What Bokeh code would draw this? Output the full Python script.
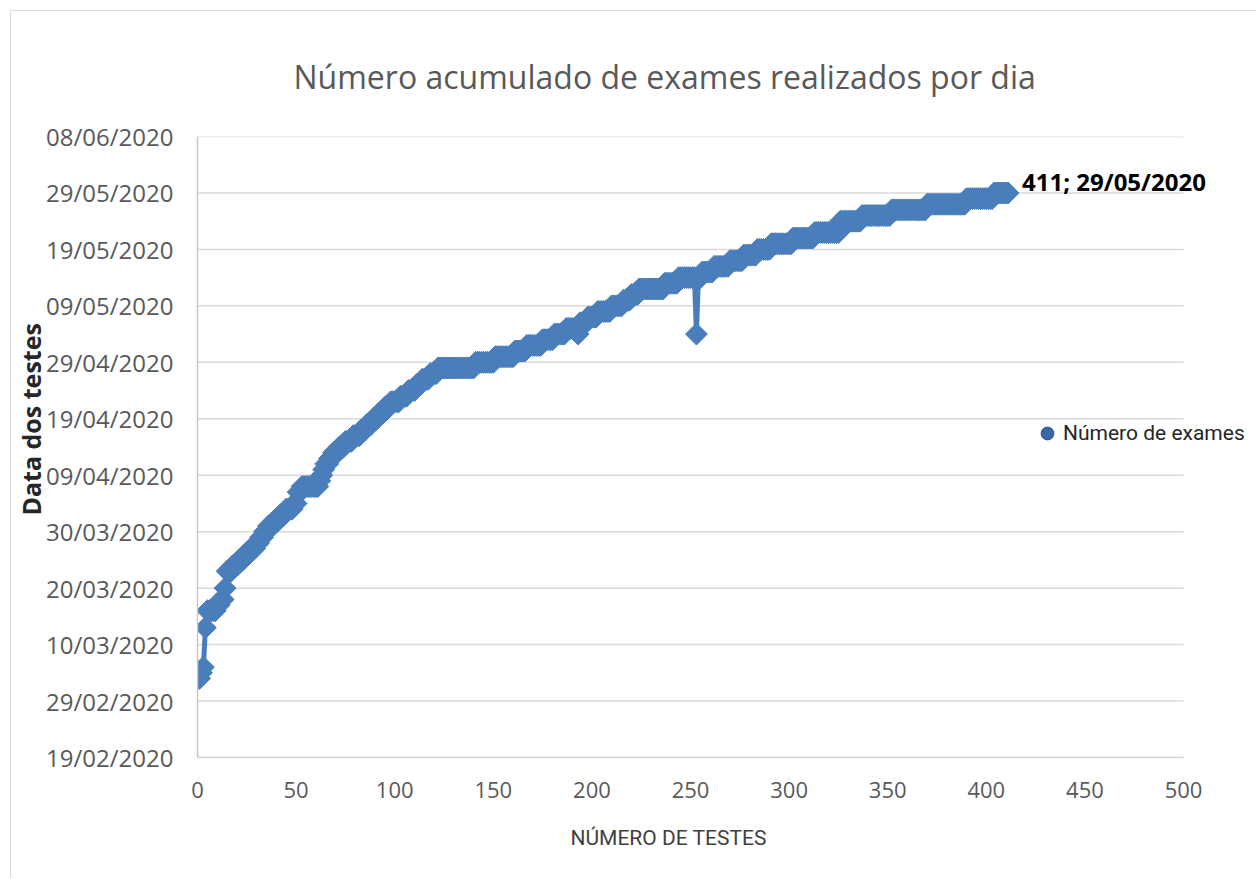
import math
import numpy as np
import pandas as pd
from bokeh.plotting import figure
from bokeh.models import (FixedTicker, DatetimeTickFormatter, Range1d, Legend,
                          LegendItem, Label, ColumnDataSource, Title)
from bokeh.embed import file_html
from bokeh.resources import INLINE

title_text = "Número acumulado de exames realizados por dia"
series_name = "Número de exames"
x_title = "NÚMERO DE TESTES"
y_title = "Data dos testes"

# runs of consecutive tests that share the same date (in test order)
run_dates = [
    "04/03/2020", "05/03/2020", "06/03/2020", "13/03/2020", "16/03/2020",
    "17/03/2020", "18/03/2020", "20/03/2020", "23/03/2020", "24/03/2020",
    "25/03/2020", "26/03/2020", "27/03/2020", "28/03/2020", "29/03/2020",
    "30/03/2020", "31/03/2020", "01/04/2020", "02/04/2020", "03/04/2020",
    "04/04/2020", "06/04/2020", "07/04/2020", "08/04/2020", "09/04/2020",
    "10/04/2020", "11/04/2020", "12/04/2020", "13/04/2020", "14/04/2020",
    "15/04/2020", "16/04/2020", "17/04/2020", "18/04/2020", "19/04/2020",
    "20/04/2020", "21/04/2020", "22/04/2020", "23/04/2020", "24/04/2020",
    "25/04/2020", "26/04/2020", "27/04/2020", "28/04/2020", "29/04/2020",
    "30/04/2020", "01/05/2020", "02/05/2020", "03/05/2020", "04/05/2020",
    "05/05/2020", "04/05/2020", "06/05/2020", "07/05/2020", "08/05/2020",
    "09/05/2020", "10/05/2020", "11/05/2020", "12/05/2020", "13/05/2020",
    "14/05/2020", "04/05/2020", "14/05/2020", "15/05/2020", "16/05/2020",
    "17/05/2020", "18/05/2020", "19/05/2020", "20/05/2020", "21/05/2020",
    "22/05/2020", "24/05/2020", "25/05/2020", "26/05/2020", "27/05/2020",
    "28/05/2020", "29/05/2020",
]
run_counts = [
    1, 1, 1, 1, 5,
    2, 2, 1, 3, 3,
    3, 3, 3, 2, 2,
    2, 3, 3, 3, 4,
    2, 2, 9, 1, 1,
    1, 2, 2, 3, 3,
    4, 4, 3, 3, 3,
    3, 3, 5, 4, 4,
    3, 4, 4, 19, 10,
    10, 6, 8, 6, 6,
    6, 1, 4, 5, 7,
    6, 4, 4, 13, 7,
    9, 1, 2, 6, 8,
    7, 7, 7, 11, 11,
    13, 11, 15, 18, 20,
    14, 8,
]

y_tick_labels = ["19/02/2020", "29/02/2020", "10/03/2020", "20/03/2020",
                 "30/03/2020", "09/04/2020", "19/04/2020", "29/04/2020",
                 "09/05/2020", "19/05/2020", "29/05/2020", "08/06/2020"]
x_ticks = [0, 50, 100, 150, 200, 250, 300, 350, 400, 450, 500]

# expand runs into one point per test
dates = pd.to_datetime(np.repeat(run_dates, run_counts), format="%d/%m/%Y")
n_tests = np.arange(1, len(dates) + 1)
src = ColumnDataSource(dict(n=n_tests, d=dates))

def ms(s):
    return pd.Timestamp(pd.to_datetime(s, format="%d/%m/%Y")).value / 1e6

y_ticks = [ms(s) for s in y_tick_labels]

BLUE = "#4a7ebb"
GREY_TXT = "#595959"
GRID = "#d9d9d9"

p = figure(width=1246, height=868, output_backend="svg", toolbar_location=None,
           x_range=Range1d(x_ticks[0], 537.5),
           y_range=Range1d(y_ticks[0], y_ticks[-1]),
           y_axis_type="datetime",
           min_border_left=186, min_border_right=0,
           min_border_top=125, min_border_bottom=122)
p.styles = {"margin-left": "10px", "margin-top": "10px",
            "border-left": "1px solid #d9d9d9", "border-top": "1px solid #d9d9d9"}

p.outline_line_color = None
p.background_fill_color = "white"
p.border_fill_color = "white"

# title
p.title.text = title_text
p.title.align = "left"
p.title.offset = 96
p.title.text_font = "Open Sans"
p.title.text_font_size = "32px"
p.title.text_font_style = "normal"
p.title.text_color = GREY_TXT
p.title.standoff = 78

# axes
p.xaxis.ticker = FixedTicker(ticks=x_ticks)
p.xaxis.bounds = (x_ticks[0], x_ticks[-1])
p.yaxis.ticker = FixedTicker(ticks=y_ticks)
p.yaxis.formatter = DatetimeTickFormatter(days="%d/%m/%Y", months="%d/%m/%Y",
                                          years="%d/%m/%Y")
for ax in (p.xaxis, p.yaxis):
    ax.major_tick_line_color = None
    ax.minor_tick_line_color = None
    ax.major_tick_out = 0
    ax.major_tick_in = 0
    ax.minor_tick_out = 0
    ax.major_label_text_font = "Open Sans"
    ax.major_label_text_color = GREY_TXT
p.xaxis.major_label_text_font_size = "22px"
p.yaxis.major_label_text_font_size = "24px"
p.xaxis.axis_line_color = GRID
p.xaxis.axis_line_width = 1.5
p.yaxis.axis_line_color = "#c8c8c8"
p.yaxis.axis_line_width = 1.5
p.yaxis.major_label_standoff = 24
p.xaxis.major_label_standoff = 24

# axis titles as side titles (so they can be positioned like the reference)
yt = Title(text=y_title, align="left", offset=242, standoff=-8,
           text_font="Open Sans", text_font_size="25px",
           text_font_style="bold", text_color="#262626")
p.add_layout(yt, "left")
xt = Title(text=x_title, align="left", offset=373, standoff=47,
           text_font="Roboto", text_font_size="21px",
           text_font_style="normal", text_color="#404040")
p.add_layout(xt, "below")

p.xgrid.grid_line_color = None
p.ygrid.grid_line_color = None

# horizontal gridlines limited to the x axis extent
n_g = len(y_ticks)
p.segment(x0=[x_ticks[0]] * n_g, x1=[x_ticks[-1]] * n_g, y0=y_ticks, y1=y_ticks,
          line_color=GRID, line_width=1.5)

# series
p.line("n", "d", source=src, line_width=5, line_color=BLUE)
p.scatter("n", "d", source=src, marker="square", angle=math.pi / 4, size=15.5,
          fill_color=BLUE, line_color=BLUE)

# legend (circle marker); plotted with size 0, only its legend glyph shows
leg_src = ColumnDataSource(dict(n=n_tests[:1], d=dates[:1]))
dummy = p.scatter("n", "d", source=leg_src, marker="circle", size=0,
                  fill_color="#3b66a6", line_color="#2f5597", line_width=1)
legend = Legend(items=[LegendItem(label=series_name, renderers=[dummy])],
                location=(834, 308), orientation="vertical")
legend.border_line_color = None
legend.background_fill_alpha = 0
legend.padding = 0
legend.margin = 0
legend.glyph_width = 32
legend.glyph_height = 32
legend.label_standoff = 0
legend.label_text_font = "Roboto"
legend.label_text_font_size = "21px"
legend.label_text_color = "#262626"
p.add_layout(legend, "center")

# data label for last point
last_n = int(n_tests[-1])
last_d = run_dates[-1]
lab = Label(x=last_n, y=ms(last_d), text=f"{last_n}; {last_d}",
            x_offset=14, y_offset=11, text_baseline="middle",
            text_font="Open Sans", text_font_size="24px",
            text_font_style="bold", text_color="black")
p.add_layout(lab)

open("out.html", "w").write(file_html(p, INLINE))
